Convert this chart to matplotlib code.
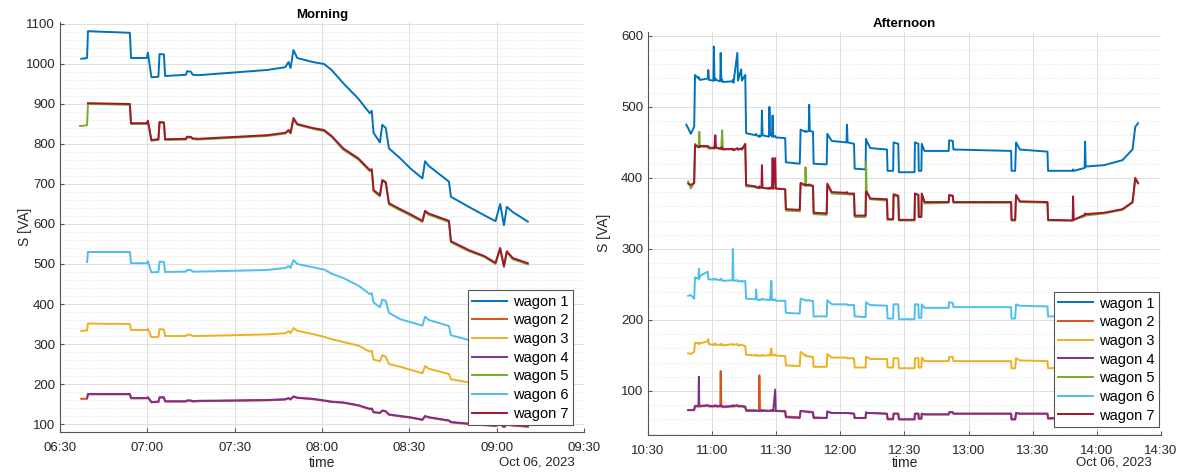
import matplotlib
matplotlib.use("Agg")
import matplotlib.pyplot as plt
import matplotlib.dates as mdates
from matplotlib.ticker import MultipleLocator
import numpy as np

nan = np.nan

# ---- morning data (minutes after 06:30) ----
m_t = [6.9, 7.3, 9.3, 9.6, 24.0, 24.4, 29.8, 30.2, 31.4, 33.8, 34.2, 35.7, 36.1,
       43.3, 43.6, 44.9, 45.6, 47.5, 71.1, 77.4, 78.5, 79.2, 80.2, 81.5, 86.8,
       90.7, 93.3, 97.3, 102.5, 106.4, 107.1, 107.7, 109.9, 110.7, 111.9, 113.0,
       116.9, 120.2, 124.5, 125.4, 126.7, 133.6, 134.3, 140.4, 145.7, 149.6,
       151.2, 152.5, 153.5, 155.5, 160.7]
m_w1 = [nan, 1013, 1015, 1082, 1078, 1015, 1015, 1028, 967, 968, 1025, 1024, 970,
        973, 982, 981, 973, 972, 985, 992, 1005, 990, 1035, 1015, 1005,
        1000, 985, 952, 913, 877, 883, 828, 804, 848, 840, 789,
        764, 740, 714, 757, 745, 706, 668, 643, 622, 607,
        650, 597, 643, 630, 606]
m_w2 = [nan, 163, 163, 174, 174, 164, 164, 166, 154, 155, 166, 166, 156,
        156, 158, 158, 156, 157, 159, 161, 164, 161, 168, 165, 162,
        158, 155, 153, 146, 137, 138, 129, 127, 133, 131, 123,
        119, 116, 110, 119, 116, 108, 104, 100, 97, 95,
        99, 92, 98, 96, 93]
m_w3 = [nan, 333, 334, 351, 350, 335, 335, 338, 317, 318, 337, 336, 320,
        320, 323, 323, 320, 320, 324, 327, 332, 327, 340, 333, 325,
        318, 312, 305, 296, 281, 283, 261, 257, 272, 268, 250,
        243, 236, 227, 245, 238, 225, 212, 204, 200, 195,
        206, 190, 203, 197, 190]
m_w4 = [nan, nan, 165, 175, 175, 165, 165, 167, 155, 156, 167, 167, 157,
        157, 159, 159, 157, 158, 160, 162, 165, 162, 169, 166, 163,
        159, 156, 154, 147, 138, 139, 130, 128, 134, 132, 124,
        120, 117, 111, 120, 117, 109, 105, 101, 98, 96,
        100, 93, 99, 97, 94]
m_w5 = [845, 845, 847, 900, 898, 850, 850, 856, 808, 810, 853, 852, 810,
        811, 816, 816, 812, 811, 820, 826, 833, 826, 862, 848, 838,
        832, 818, 786, 761, 732, 734, 682, 669, 707, 702, 649,
        634, 622, 605, 630, 623, 605, 554, 532, 518, 500,
        537, 492, 529, 512, 499]
m_w6 = [nan, nan, 505, 530, 530, 502, 502, 507, 479, 480, 506, 505, 480,
        481, 485, 485, 481, 481, 485, 490, 495, 490, 510, 500, 492,
        486, 476, 465, 446, 425, 427, 404, 392, 411, 408, 378,
        362, 355, 346, 368, 360, 345, 322, 310, 303, 298,
        318, 292, 312, 303, 292]
m_w7 = [nan, nan, nan, 902, 900, 852, 852, 858, 810, 812, 855, 854, 812,
        813, 818, 818, 814, 813, 822, 828, 835, 828, 865, 850, 840,
        835, 820, 789, 764, 735, 737, 685, 672, 710, 705, 652,
        637, 625, 608, 633, 626, 608, 557, 535, 520, 503,
        540, 495, 532, 515, 502]

# ---- afternoon data (minutes after 10:30) ----
a_t = [17.9, 18.8, 20.0, 21.6, 22.0, 23.6, 23.8, 24.0, 24.3, 28.0, 28.2, 28.5,
       30.6, 30.8, 31.1, 31.5, 31.8, 33.8, 34.0, 34.3, 34.7, 35.0, 39.5, 39.7,
       40.0, 41.8, 42.1, 43.6, 43.9, 45.5, 45.9, 50.4, 50.6, 50.9, 51.9, 52.1,
       52.4, 53.1, 53.3, 53.6, 56.6, 56.8, 57.1, 57.7, 58.0, 58.3, 58.6, 59.5,
       59.8, 64.2, 64.5, 71.0, 71.4, 73.5, 73.7, 74.0, 75.2, 75.4, 75.7, 77.2,
       77.5, 83.6, 83.9, 86.0, 92.9, 93.1, 93.4, 96.4, 96.7, 101.8, 102.0, 102.3,
       104.0, 111.8, 112.1, 114.7, 114.9, 117.1, 117.4, 124.7, 124.9, 126.5,
       126.7, 127.9, 128.1, 129.4, 140.7, 140.9, 142.6, 142.9, 169.9, 170.1,
       171.8, 172.2, 174.0, 186.9, 187.2, 198.7, 198.9, 199.2, 204.3, 204.5,
       204.8, 213.5, 222.0, 226.7, 228.0, 229.3]
a_w1 = [475, 470, 462, 472, 545, 540, 542, 540, 538, 540, 552, 538,
        537, 585, 537, 540, 538, 536, 576, 537, 538, 535, 536, 538,
        534, 576, 537, 553, 537, 545, 463, 460, 462, 460, 458, 460,
        458, 460, 495, 460, 458, 500, 460, 462, 458, 488, 458, 459,
        457, 456, 422, 420, 468, 465, 466, 465, 466, 503, 466, 465,
        420, 419, 462, 452, 450, 475, 450, 448, 413, 412, 455, 452,
        442, 440, 410, 410, 450, 448, 408, 408, 450, 448,
        410, 410, 448, 438, 438, 453, 452, 440, 438, 410,
        410, 450, 440, 437, 410, 410, 412, 410, 414, 451,
        416, 418, 425, 440, 472, 477]
a_w2 = [nan, 73, 73, 74, 78, 78, 78, 78, 78, 79, 79, 78,
        78, 78, 78, 79, 78, 78, 128, 78, 78, 77, 78, 78,
        78, 79, 78, 78, 78, 77, 73, 73, 73, 72, 72, 122,
        72, 73, 73, 73, 72, 72, 72, 73, 72, 72, 72, 72,
        72, 72, 64, 63, 72, 71, 71, 71, 71, 71, 71, 70,
        63, 62, 71, 69, 69, 69, 69, 68, 62, 62, 70, 69,
        69, 68, 61, 61, 68, 68, 60, 60, 68, 68,
        61, 61, 68, 67, 67, 70, 70, 68, 68, 60,
        60, 69, 68, 68, 62, 62, 62, 62, 63, 63,
        63, 64, 65, 67, 71, 70]
a_w3 = [nan, 153, 152, 155, 168, 167, 168, 166, 167, 170, 173, 166,
        165, 166, 165, 167, 165, 165, 166, 165, 166, 164, 166, 165,
        165, 166, 164, 165, 165, 163, 151, 150, 151, 150, 150, 150,
        149, 150, 151, 150, 150, 151, 150, 160, 150, 151, 150, 151,
        150, 149, 136, 135, 155, 150, 151, 149, 149, 149, 148, 148,
        134, 134, 152, 147, 147, 147, 146, 146, 133, 133, 148, 148,
        145, 145, 133, 133, 146, 146, 132, 132, 146, 146,
        133, 133, 147, 142, 142, 148, 148, 142, 142, 132,
        132, 146, 143, 142, 132, 133, 133, 133, 134, 135,
        134, 136, 138, 142, 150, 148]
a_w4 = [nan, 73, 73, 73, 79, 79, 120, 79, 79, 80, 80, 79,
        79, 79, 79, 80, 79, 79, 80, 79, 79, 78, 79, 80,
        79, 80, 79, 79, 79, 78, 72, 72, 72, 72, 72, 72,
        72, 72, 73, 72, 72, 72, 72, 73, 72, 72, 72, 102,
        72, 71, 63, 62, 72, 71, 71, 71, 70, 70, 70, 70,
        62, 62, 71, 69, 69, 69, 69, 68, 62, 62, 70, 69,
        69, 68, 60, 60, 68, 68, 60, 60, 68, 68,
        61, 61, 68, 67, 67, 70, 70, 68, 68, 60,
        60, 69, 68, 68, 61, 62, 62, 62, 63, 63,
        63, 64, 65, 67, 71, 70]
a_w5 = [nan, 395, 385, 393, 448, 444, 446, 465, 444, 443, 442, 441,
        442, 441, 441, 444, 442, 441, 442, 443, 467, 441, 440, 441,
        439, 441, 440, 442, 440, 445, 388, 387, 386, 386, 386, 388,
        386, 387, 387, 386, 385, 386, 385, 386, 385, 386, 385, 386,
        385, 384, 354, 353, 392, 389, 415, 389, 389, 390, 389, 388,
        349, 348, 390, 378, 377, 378, 377, 376, 345, 345, 422, 380,
        370, 368, 341, 341, 375, 373, 340, 340, 378, 376,
        345, 345, 377, 364, 365, 375, 374, 365, 365, 340,
        340, 375, 366, 365, 340, 340, 342, 341, 346, 348,
        347, 350, 355, 365, 398, 392]
a_w6 = [nan, 234, 235, 230, 260, 258, 272, 258, 262, 268, 258, 257,
        257, 258, 257, 258, 257, 256, 258, 256, 257, 255, 256, 300,
        255, 256, 254, 255, 254, 255, 230, 229, 243, 229, 228, 229,
        228, 229, 230, 229, 228, 228, 228, 255, 228, 229, 228, 229,
        227, 227, 210, 209, 230, 228, 228, 227, 228, 228, 227, 227,
        205, 205, 228, 222, 222, 222, 221, 221, 205, 204, 225, 224,
        221, 220, 202, 202, 222, 222, 201, 201, 222, 222,
        203, 203, 222, 217, 217, 225, 224, 218, 218, 202,
        202, 222, 220, 219, 205, 205, 206, 205, 207, 208,
        207, 208, 212, 218, 232, 236]
a_w7 = [nan, 392, 390, 393, 446, 443, 444, 443, 445, 445, 444, 443,
        442, 443, 442, 460, 443, 441, 442, 441, 443, 440, 441, 441,
        439, 442, 440, 441, 440, 448, 390, 388, 387, 387, 386, 388,
        386, 387, 418, 386, 385, 386, 385, 387, 385, 428, 385, 428,
        385, 384, 356, 355, 393, 390, 391, 390, 390, 391, 390, 389,
        351, 350, 392, 380, 379, 380, 378, 378, 347, 347, 380, 381,
        371, 370, 342, 342, 377, 375, 341, 341, 378, 376,
        345, 345, 378, 366, 366, 376, 375, 366, 366, 341,
        341, 376, 367, 366, 341, 340, 374, 341, 348, 350,
        349, 351, 356, 366, 400, 393]

labels = ["wagon 1", "wagon 2", "wagon 3", "wagon 4", "wagon 5", "wagon 6", "wagon 7"]
colors = ["#0072BD", "#D95319", "#EDB120", "#7E2F8E", "#77AC30", "#4DBEEE", "#A2142F"]

plt.rcParams['font.family'] = ['Liberation Sans', 'DejaVu Sans']
txt = '#262626'


def to_dates(base, minutes):
    sec = np.round(np.array(minutes) * 60).astype(int)
    return np.datetime64(base) + sec.astype('timedelta64[s]')


def style(ax, title, ylab_x, xlab_x, date_x, leg_anchor):
    ax.set_title(title, fontsize=9.5, fontweight='bold', color='black', pad=3)
    ax.set_xlabel("time", fontsize=10, color=txt, va='center')
    ax.xaxis.set_label_coords(xlab_x, 0.024, transform=fig.transFigure)
    ax.set_ylabel("S [VA]", fontsize=10, color=txt)
    pos = ax.get_position()
    ax.yaxis.set_label_coords(ylab_x, (pos.y0 + pos.y1) / 2, transform=fig.transFigure)
    ax.xaxis.set_major_locator(mdates.MinuteLocator(byminute=[0, 30]))
    ax.xaxis.set_major_formatter(mdates.DateFormatter('%H:%M'))
    ax.yaxis.set_minor_locator(MultipleLocator(20))
    ax.grid(True, which='major', color='#dedede', lw=0.7)
    ax.grid(True, which='minor', axis='y', color='#e2e2e2', lw=0.6, ls=':')
    ax.set_axisbelow(True)
    for s in ['top', 'right']:
        ax.spines[s].set_visible(False)
    for s in ['left', 'bottom']:
        ax.spines[s].set_color('#555555')
        ax.spines[s].set_linewidth(0.8)
    ax.tick_params(which='major', direction='in', length=3, labelsize=9.5,
                   colors='#555555', labelcolor=txt)
    ax.tick_params(axis='x', which='major', pad=7)
    ax.tick_params(which='minor', length=0)
    fig.text(date_x, 0.024, "Oct 06, 2023", ha='right', va='center',
             fontsize=9.5, color=txt)
    leg = ax.legend(loc='lower right', bbox_to_anchor=leg_anchor,
                    fontsize=10.5, fancybox=False, framealpha=1,
                    edgecolor='#555555', handlelength=2.4, labelspacing=0.32,
                    borderpad=0.3, handletextpad=0.4, borderaxespad=0)
    leg.get_frame().set_linewidth(0.8)


fig = plt.figure(figsize=(11.81, 4.74), dpi=100)
ax1 = fig.add_axes([0.0508, 0.0886, 0.4437, 0.865])
ax2 = fig.add_axes([0.5487, 0.0823, 0.4343, 0.851])

mt = to_dates("2023-10-06T06:30", m_t)
for vals, lab, c in zip([m_w1, m_w2, m_w3, m_w4, m_w5, m_w6, m_w7], labels, colors):
    ax1.plot(mt, vals, color=c, lw=1.4, label=lab)
ax1.set_xlim(np.datetime64("2023-10-06T06:30"), np.datetime64("2023-10-06T09:30"))
ax1.set_ylim(80, 1105)
ax1.set_yticks(range(100, 1101, 100))
style(ax1, "Morning", 0.027, 0.2727, 0.487, (0.979, 0.017))

at = to_dates("2023-10-06T10:30", a_t)
for vals, lab, c in zip([a_w1, a_w2, a_w3, a_w4, a_w5, a_w6, a_w7], labels, colors):
    ax2.plot(at, vals, color=c, lw=1.4, label=lab)
ax2.set_xlim(np.datetime64("2023-10-06T10:30"), np.datetime64("2023-10-06T14:30"))
ax2.set_ylim(38, 606)
ax2.set_yticks(range(100, 601, 100))
style(ax2, "Afternoon", 0.517, 0.766, 0.975, (0.996, 0.02))

fig.savefig("out.png", dpi=100)
